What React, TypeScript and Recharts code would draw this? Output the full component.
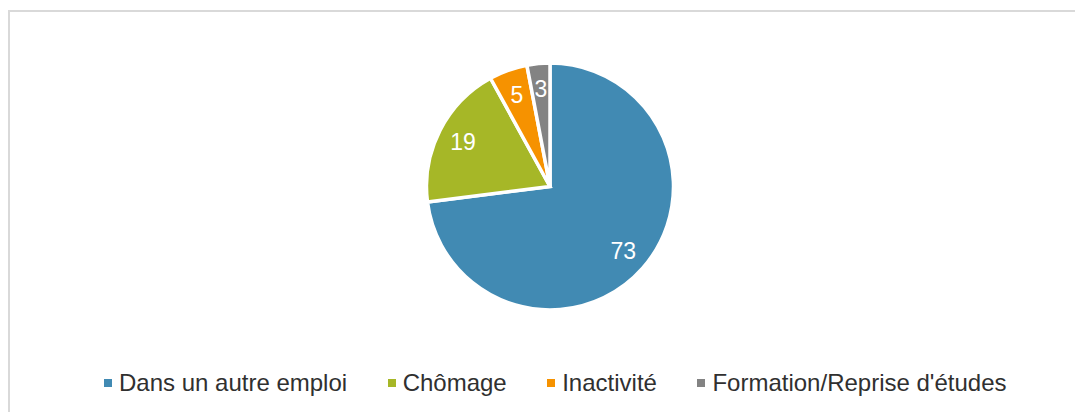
import React from "react";
import { PieChart, Pie, Cell, Legend } from "recharts";

const categories = ["Dans un autre emploi", "Chômage", "Inactivité", "Formation/Reprise d'études"];
const values = [73, 19, 5, 3];
const colors = ["#418AB3", "#A6B727", "#F69200", "#838383"];

const data = categories.map((name, i) => ({ name, value: values[i] }));

const RAD = Math.PI / 180;

const renderLabel = (props: any) => {
  const { cx, cy, midAngle, outerRadius, value } = props;
  const r = outerRadius * 0.79;
  const x = cx + r * Math.cos(-midAngle * RAD);
  const y = cy + r * Math.sin(-midAngle * RAD);
  return (
    <text
      x={x}
      y={y}
      fill="#ffffff"
      textAnchor="middle"
      dominantBaseline="central"
      fontSize={23}
      fontFamily="'Liberation Sans', Arial, sans-serif"
    >
      {value}
    </text>
  );
};

const LegendContent = () => (
  <div
    style={{
      display: "flex",
      alignItems: "center",
      paddingLeft: 104,
      fontFamily: "'Liberation Sans', Arial, sans-serif",
      fontSize: 24,
      color: "#303030",
      whiteSpace: "nowrap",
    }}
  >
    {categories.map((c, i) => (
      <div key={c} style={{ display: "flex", alignItems: "center", marginRight: 40.5 }}>
        <span
          style={{
            display: "inline-block",
            width: 8,
            height: 8,
            background: colors[i],
            marginRight: 7,
          }}
        />
        <span>{c}</span>
      </div>
    ))}
  </div>
);

export default function App() {
  return (
    <div style={{ position: "relative", width: 1075, height: 412, background: "#fff", overflow: "hidden" }}>
      <style>{`html,body{margin:0;padding:0;overflow:hidden;}`}</style>
      <div
        style={{
          position: "absolute",
          left: 8,
          top: 10,
          width: 1100,
          height: 500,
          borderLeft: "2px solid #d9d9d9",
          borderTop: "2px solid #d9d9d9",
        }}
      />
      <div style={{ position: "absolute", left: 0, top: 0 }}>
        <PieChart width={1075} height={412} margin={{ top: 0, right: 0, bottom: 0, left: 0 }}>
          <Pie
            data={data}
            dataKey="value"
            nameKey="name"
            cx={550}
            cy={186.5}
            outerRadius={123.5}
            startAngle={90}
            endAngle={-270}
            stroke="#ffffff"
            strokeWidth={3.5}
            labelLine={false}
            label={renderLabel}
            isAnimationActive={false}
          >
            {data.map((d, i) => (
              <Cell key={d.name} fill={colors[i]} />
            ))}
          </Pie>
          <Legend
            content={<LegendContent />}
            wrapperStyle={{ position: "absolute", top: 369, left: 0, width: 1075, height: 30 }}
          />
        </PieChart>
      </div>
    </div>
  );
}
